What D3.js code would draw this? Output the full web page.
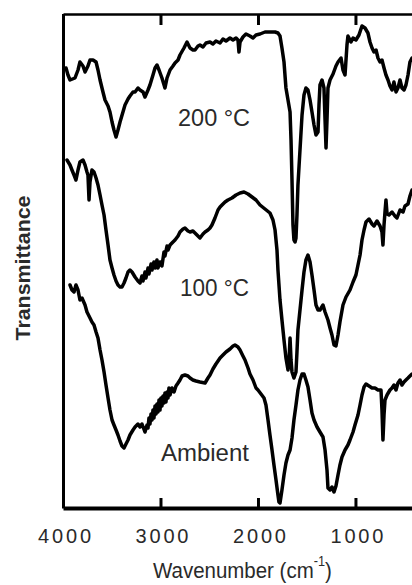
<!DOCTYPE html>
<html>
<head>
<meta charset="utf-8">
<script src="https://cdn.jsdelivr.net/npm/d3@7"></script>
<style>
  html, body { margin: 0; padding: 0; background: #fff; }
  svg { display: block; }
  text { font-family: "Liberation Sans", Arial, sans-serif; fill: #2a2a2a; }
</style>
</head>
<body>
<svg id="chart" width="412" height="585"></svg>
<script>
// FTIR spectra, [wavenumber cm-1, transmittance (a.u., stacked with offsets)]
const spec200 = [
  [3969,220],[3949,216.5],[3928,214],[3877,215],[3846,219],[3826,223],[3795,221],[3774,218],[3744,221],[3723,224],
  [3692,224],[3661,223],[3641,219],[3620,214],[3590,208],[3569,204],[3538,201],[3518,198],[3497,193],[3477,189],
  [3456,185.5],[3436,189],[3415,193],[3385,198],[3364,201.5],[3333,204.5],[3313,206],[3282,208],[3261,208],[3231,210],
  [3210,209],[3179,208],[3159,205.5],[3128,209],[3108,211.5],[3077,216.5],[3056,220],[3036,221.5],[3015,219],[2985,215],
  [2954,210],[2933,215],[2902,219],[2872,221],[2851,222.5],[2820,224],[2800,226.5],[2759,230],[2728,233],[2697,230],
  [2667,229],[2646,229],[2615,231],[2595,231.5],[2564,230.5],[2533,232.5],[2492,233],[2462,232],[2431,233.5],[2389,232.5],
  [2359,234.5],[2328,233.5],[2287,235],[2256,234],[2225,235],[2205,234],[2195,228],[2184,233],[2154,235.5],[2123,237],
  [2082,236],[2051,235],[2020,236.5],[1979,237],[1928,238],[1877,238],[1825,238],[1795,237.5],[1774,236],[1754,230],
  [1733,223],[1713,210],[1692,204],[1671,198],[1661,184],[1651,164],[1641,141.5],[1631,134],[1620,133],[1610,135],
  [1600,146.5],[1590,161.5],[1569,179],[1548,196.5],[1528,206.5],[1508,210],[1487,209],[1466,204],[1446,198],[1425,191.5],
  [1405,186.5],[1384,188],[1374,201.5],[1364,211.5],[1343,214],[1323,210],[1312,194],[1302,180],[1292,194],[1282,210],
  [1261,214],[1230,217],[1200,221],[1179,223],[1148,225],[1128,219],[1107,216.5],[1087,231.5],[1077,236],[1046,233],
  [1025,235],[995,234],[964,236.5],[933,241],[902,240],[872,237.5],[851,233],[830,230],[810,228],[789,229],
  [769,225],[748,223],[728,224],[707,220],[687,216.5],[666,214],[646,211],[625,209],[605,213],[584,208],
  [564,210],[543,214],[523,210],[502,209],[482,211.5],[461,216.5],[441,223],[420,225]
];

const spec100 = [
  [3959,174],[3928,171.5],[3908,169],[3887,166.5],[3867,164],[3846,169],[3826,173],[3795,174],[3774,171.5],[3754,168],
  [3744,166.5],[3733,154],[3723,163],[3703,169],[3682,168],[3661,165],[3641,161.5],[3620,156.5],[3600,151.5],[3579,146.5],
  [3559,139],[3538,131.5],[3518,124],[3497,120],[3477,116.5],[3456,113.5],[3436,111.5],[3415,110.5],[3395,110.5],[3374,112.5],
  [3354,115],[3333,118],[3313,119],[3292,118],[3261,115.5],[3231,113.5],[3210,112.5],[3190,116],[3179,113.5],[3159,118],
  [3149,115],[3128,120],[3118,117],[3097,122],[3087,119],[3067,123],[3056,120],[3036,124],[3026,120],[3005,123],
  [2985,121],[2964,128],[2954,126],[2933,131],[2923,129],[2902,131.5],[2872,133],[2851,134],[2820,136],[2800,138],
  [2769,139.5],[2749,140],[2718,138.5],[2697,138],[2667,138.5],[2636,137],[2595,135],[2564,137],[2543,138],[2513,139],
  [2492,140],[2472,141.5],[2441,145],[2410,149],[2389,150.5],[2369,151.5],[2338,153],[2308,154],[2267,155],[2225,156.5],
  [2184,157.5],[2143,158],[2102,157],[2061,155.5],[2020,154],[1979,151.5],[1928,149.5],[1877,147.5],[1846,144],[1825,139],
  [1805,129],[1795,119],[1774,104],[1754,94],[1733,84],[1713,75],[1692,69],[1682,73],[1671,85],[1661,74],
  [1651,68],[1631,65],[1610,68],[1600,78],[1590,89],[1569,99],[1548,109],[1528,118],[1508,124],[1487,126.5],
  [1466,123],[1446,116.5],[1425,109],[1405,101.5],[1384,99],[1364,99],[1333,101.5],[1312,98],[1282,94],[1261,90],
  [1241,86.5],[1220,81.5],[1200,81],[1179,86.5],[1159,93],[1128,101.5],[1097,105.5],[1056,109],[1025,113],[995,116.5],
  [974,121.5],[953,126.5],[933,134],[912,139],[892,143],[861,144.5],[830,142],[810,141],[779,143.5],[748,141],
  [728,138],[718,131.5],[707,141.5],[697,148],[687,154],[676,147],[656,146.5],[625,148],[595,146],[574,145],
  [543,149],[512,148],[492,151],[461,152],[441,156],[420,159]
];

const specAmbient = [
  [3928,111.5],[3908,109],[3887,108],[3867,111.5],[3846,109],[3826,104],[3805,105],[3774,101.5],[3754,98],[3723,95],
  [3703,93],[3682,91.5],[3661,88],[3641,85],[3620,79],[3600,74],[3579,68],[3559,61.5],[3538,55],[3518,49],
  [3497,44],[3477,41.5],[3456,39],[3436,36.5],[3415,33.5],[3395,31],[3374,30],[3354,32],[3333,34],[3313,36.5],
  [3282,39],[3261,40.5],[3231,42],[3210,40.5],[3190,42],[3159,38],[3138,41.5],[3128,40],[3118,45],[3108,42],
  [3097,47],[3087,44],[3077,49],[3067,45],[3056,51],[3046,47],[3036,52],[3026,48],[3015,54],[3005,49],
  [2995,55],[2985,51],[2974,56],[2964,52.5],[2954,57.5],[2944,53],[2933,58],[2923,55],[2913,60],[2902,56.5],
  [2882,60],[2861,58],[2841,61],[2820,62.5],[2800,64],[2779,66],[2749,66.5],[2718,66],[2697,65],[2667,64],
  [2636,63.5],[2595,63],[2543,62.5],[2513,65],[2492,66.5],[2462,69.5],[2431,72],[2389,75],[2359,76.5],[2328,78],
  [2287,79.5],[2256,81],[2236,81.5],[2205,80.5],[2184,79],[2154,76],[2133,74],[2102,70],[2082,67],[2051,64],
  [2020,60],[2000,59],[1969,57],[1938,55],[1918,51.5],[1897,44],[1877,36.5],[1856,29],[1836,21.5],[1815,14],
  [1795,6.5],[1785,3],[1774,2.5],[1754,9],[1733,16.5],[1713,22.5],[1692,26.5],[1671,29],[1651,35],[1631,44],
  [1610,51.5],[1590,59],[1569,64],[1548,67],[1528,67],[1508,64],[1487,60.5],[1466,54],[1446,47.5],[1425,44],
  [1394,40.5],[1364,38],[1333,35.5],[1312,29],[1292,19],[1282,10],[1261,9],[1241,10.5],[1220,8],[1200,11],
  [1179,16.5],[1159,21.5],[1138,25.5],[1107,29],[1077,31.5],[1056,34],[1025,38],[1005,41.5],[974,46.5],[953,51.5],
  [933,56.5],[912,60.5],[892,62],[861,61],[830,60],[800,60],[769,59],[738,59],[728,49],[718,34],
  [707,46.5],[697,54],[676,56.5],[646,59],[625,60],[605,61.5],[584,59],[564,62.5],[543,64],[523,61.5],
  [502,63],[482,64],[461,65],[441,66],[420,67]
];

const seriesNames = ["200 \u00B0C", "100 \u00B0C", "Ambient"];
// label anchor for each trace: [wavenumber, transmittance]
const labelAnchors = [[2820, 191], [2800, 106], [2995, 23.5]];
const labelWidths = [72, 69, 88];
const xTicks = [4000, 3000, 2000, 1000];

const svg = d3.select("#chart");

const x = d3.scaleLinear().domain([4000, 420]).range([63, 412]);
const y = d3.scaleLinear().domain([0, 247]).range([508, 14]);

// frame: bottom axis with labels, top axis with inward ticks, bare left axis
const gBottom = svg.append("g").attr("transform", "translate(0,508)")
  .call(d3.axisBottom(x).tickValues(xTicks).tickSizeInner(-10).tickSizeOuter(0).tickPadding(21)
    .tickFormat(d3.format("d")));
gBottom.select(".domain").attr("stroke", "#000").attr("stroke-width", 4);
gBottom.selectAll(".tick line").attr("stroke", "#000").attr("stroke-width", 3);
gBottom.selectAll(".tick text")
  .attr("font-size", 20).attr("fill", "#2a2a2a").attr("dx", 1)
  .attr("textLength", 53).attr("lengthAdjust", "spacing")
  .style("font-family", "'Liberation Sans', Arial, sans-serif");

const gTop = svg.append("g").attr("transform", "translate(0,14)")
  .call(d3.axisTop(x).tickValues(xTicks).tickSizeInner(-11).tickSizeOuter(0).tickFormat(""));
gTop.select(".domain").attr("stroke", "#000").attr("stroke-width", 2.5);
gTop.selectAll(".tick line").attr("stroke", "#000").attr("stroke-width", 3);

const gLeft = svg.append("g").attr("transform", "translate(63,0)")
  .call(d3.axisLeft(y).tickValues([]).tickSizeOuter(0));
gLeft.select(".domain").attr("stroke", "#000").attr("stroke-width", 3);

// spectra
svg.append("clipPath").attr("id", "plotClip")
  .append("rect").attr("x", 64).attr("y", 14).attr("width", 348).attr("height", 494);

const line = d3.line().x(d => x(d[0])).y(d => y(d[1]));
const plot = svg.append("g").attr("clip-path", "url(#plotClip)");
[spec200, spec100, specAmbient].forEach(s => {
  plot.append("path")
    .attr("d", line(s))
    .attr("fill", "none")
    .attr("stroke", "#000")
    .attr("stroke-width", 3.5)
    .attr("stroke-linejoin", "round")
    .attr("stroke-linecap", "round");
});

// trace labels
seriesNames.forEach((name, i) => {
  svg.append("text")
    .attr("x", x(labelAnchors[i][0]))
    .attr("y", y(labelAnchors[i][1]))
    .attr("font-size", 23)
    .attr("textLength", labelWidths[i])
    .attr("lengthAdjust", "spacingAndGlyphs")
    .text(name);
});

// x-axis title with superscript, slightly condensed
const title = svg.append("text")
  .attr("transform", "translate(153,578) scale(0.91,1)")
  .attr("font-size", 22.5);
title.append("tspan").text("Wavenumber (cm");
title.append("tspan").attr("dy", -12).attr("font-size", 14).text("-1");
title.append("tspan").attr("dy", 12).text(")");

// y-axis title
svg.append("text")
  .attr("transform", "translate(29.5,268) rotate(-90)")
  .attr("text-anchor", "middle")
  .attr("font-size", 21)
  .attr("font-weight", "bold")
  .attr("fill", "#111")
  .attr("textLength", 145)
  .attr("lengthAdjust", "spacingAndGlyphs")
  .text("Transmittance");
</script>
</body>
</html>
